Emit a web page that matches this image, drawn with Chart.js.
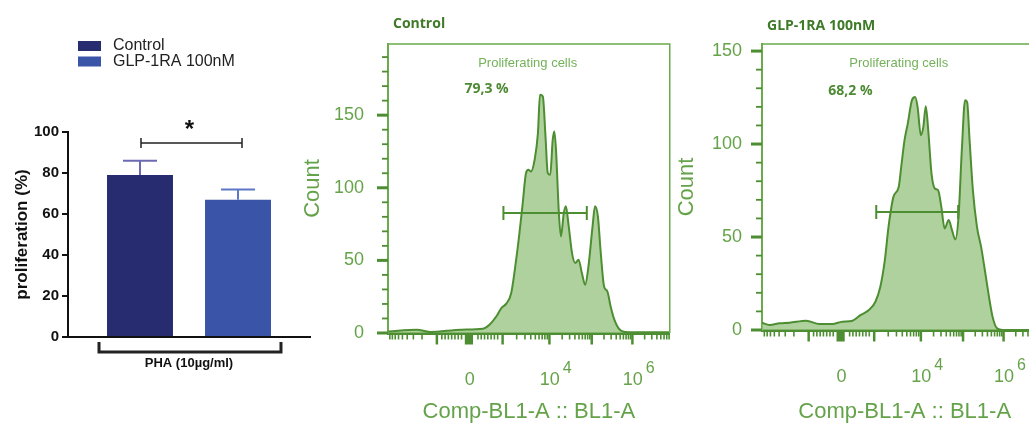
<!DOCTYPE html>
<html>
<head>
<meta charset="utf-8">
<script src="https://cdn.jsdelivr.net/npm/chart.js@4.4.1/dist/chart.umd.min.js"></script>
<style>
  html, body { margin: 0; padding: 0; background: #fff; overflow: hidden; }
  body { width: 1029px; height: 425px; position: relative; }
  canvas { position: absolute; top: 0; }
  #barChart { left: 0; }
  #ctrlChart { left: 300px; }
  #glpChart { left: 670px; }
</style>
</head>
<body>
<canvas id="barChart" width="320" height="425"></canvas>
<canvas id="ctrlChart" width="380" height="425"></canvas>
<canvas id="glpChart" width="380" height="425"></canvas>
<script>
// bar chart data
const groups = ['Control', 'GLP-1RA 100nM'];
const proliferation = [79, 67];
const proliferationErr = [86, 72];   // top of the error bar
const stimulus = 'PHA (10µg/ml)';

// histogram data (x in display units of the biexponential axis)
const ctrlBins = [-1.98, -1.29, -0.97, -0.20, 0.32, 0.48, 0.65, 0.77, 0.89, 1.01, 1.13, 1.21, 1.29, 1.37, 1.43, 1.49, 1.58, 1.66, 1.71, 1.78, 1.84, 1.90, 1.96, 2.02, 2.06, 2.10, 2.17, 2.22, 2.29, 2.34, 2.41, 2.49, 2.57, 2.65, 2.73, 2.81, 2.89, 2.99, 3.05, 3.12, 3.19, 3.27, 3.35, 3.43, 3.52, 3.62, 3.72, 3.88, 4.85];
const ctrlCounts = [1.1, 2.3, 0.7, 2.3, 3.0, 5.7, 11.5, 17.2, 20.2, 27.5, 50.5, 68.8, 89.4, 110.1, 112.4, 111.2, 119.3, 137.6, 164.0, 162.8, 137.6, 110.1, 108.9, 133.0, 138.8, 126.1, 82.6, 66.5, 82.6, 87.2, 73.4, 55.0, 48.2, 50.5, 41.3, 33.3, 45.9, 73.4, 87.2, 80.3, 55.0, 32.1, 28.7, 18.3, 9.2, 3.4, 1.1, 0.5, 0.5];
const glpBins = [-1.95, -1.75, -1.51, -1.27, -0.86, -0.54, -0.22, 0.02, 0.27, 0.47, 0.67, 0.83, 0.95, 1.06, 1.15, 1.27, 1.40, 1.46, 1.54, 1.62, 1.72, 1.80, 1.86, 1.94, 2.00, 2.06, 2.12, 2.20, 2.28, 2.36, 2.44, 2.52, 2.62, 2.70, 2.78, 2.86, 2.94, 3.02, 3.07, 3.13, 3.21, 3.31, 3.41, 3.49, 3.59, 3.69, 3.80, 3.94, 5.0];
const glpCounts = [3.9, 2.7, 3.6, 3.9, 5.0, 3.2, 3.2, 4.5, 5.0, 8.1, 10.7, 15.2, 23.3, 37.6, 55.5, 71.6, 77.0, 87.7, 102.0, 111.0, 123.5, 125.3, 119.9, 104.7, 109.2, 120.3, 107.4, 84.1, 76.1, 75.2, 66.2, 54.6, 59.1, 53.7, 48.7, 60.9, 96.7, 123.5, 122.6, 102.0, 75.2, 55.5, 44.8, 34.0, 19.7, 7.2, 0.9, 0, 0];

// gates: [start, end, level]
const ctrlGate = [0.82, 2.85, 82.6];
const glpGate = [0.85, 2.85, 63.4];
const gatedPercent = ['79,3 %', '68,2 %'];

// x axis tick labels (value, base, exponent)
const xTickValues = [0, 1.95, 3.97];
const xTickBases = ['0', '10', '10'];
const xTickExps = ['', '4', '6'];

const ARIAL = "'Liberation Sans', Arial, sans-serif";
const CALIBRI = "'Open Sans', 'Liberation Sans', sans-serif";
const barColors = ['#272b70', '#3a54a8'];
const errColors = ['#6b6ab2', '#5d76c6'];

const GREEN_TEXT = '#65a34a';
const GREEN_LINE = '#4e8e32';
const GREEN_AXIS = '#6aab4c';
const GREEN_DARK = '#3f7a28';

// ---------- bar chart ----------
const barExtras = {
  id: 'barExtras',
  afterDatasetsDraw(chart) {
    const { ctx, scales: { y } } = chart;
    const els = chart.data.datasets.map((d, i) => chart.getDatasetMeta(i).data[0]);
    ctx.save();
    // error bars
    els.forEach((el, i) => {
      const yTop = y.getPixelForValue(proliferationErr[i]);
      const yMean = y.getPixelForValue(proliferation[i]);
      ctx.strokeStyle = errColors[i];
      ctx.lineWidth = 2;
      ctx.beginPath();
      ctx.moveTo(el.x, yMean); ctx.lineTo(el.x, yTop);
      ctx.moveTo(el.x - 17, yTop); ctx.lineTo(el.x + 17, yTop);
      ctx.stroke();
    });
    // significance bracket
    const yb = y.getPixelForValue(94.6);
    const x0 = els[0].x + 1, x1 = els[1].x + 4;
    ctx.strokeStyle = '#222';
    ctx.lineWidth = 1.5;
    ctx.beginPath();
    ctx.moveTo(x0, yb); ctx.lineTo(x1, yb);
    ctx.moveTo(x0, yb - 5); ctx.lineTo(x0, yb + 5);
    ctx.moveTo(x1, yb - 5); ctx.lineTo(x1, yb + 5);
    ctx.stroke();
    ctx.fillStyle = '#111';
    ctx.font = 'bold 24px ' + ARIAL;
    ctx.textAlign = 'center';
    ctx.textBaseline = 'middle';
    ctx.fillText('*', (x0 + x1) / 2 - 2, yb - 13);
    // group bracket under the axis
    const bl = els[0].x - els[0].width / 2 - 8;
    const br = els[1].x + els[1].width / 2 + 10;
    const by = chart.chartArea.bottom + 15;
    ctx.lineWidth = 3;
    ctx.beginPath();
    ctx.moveTo(bl, by - 10); ctx.lineTo(bl, by); ctx.lineTo(br, by); ctx.lineTo(br, by - 10);
    ctx.stroke();
    // legend
    ctx.font = '16px ' + ARIAL;
    ctx.textAlign = 'left';
    chart.data.datasets.forEach((d, i) => {
      const ly = 46 + i * 15.5;
      ctx.fillStyle = d.backgroundColor;
      ctx.fillRect(78, ly - 5, 23, 10);
      ctx.fillStyle = '#222';
      ctx.fillText(d.label, 113, ly);
    });
    ctx.restore();
  }
};

new Chart(document.getElementById('barChart'), {
  type: 'bar',
  data: {
    labels: [stimulus],
    datasets: groups.map((g, i) => ({
      label: g,
      data: [proliferation[i]],
      backgroundColor: barColors[i],
      categoryPercentage: 0.81,
      barPercentage: 0.673
    }))
  },
  options: {
    responsive: false,
    animation: false,
    layout: { padding: { top: 132, right: 10, left: 0, bottom: 0 } },
    plugins: { legend: { display: false }, tooltip: { enabled: false } },
    scales: {
      x: {
        grid: { display: false, drawTicks: false },
        border: { display: true, color: '#111', width: 2 },
        ticks: { display: false },
        title: {
          display: true, text: stimulus, color: '#111',
          font: { family: ARIAL, size: 13, weight: 'bold' },
          padding: { top: 0, bottom: 54 }
        },
        afterFit: s => { s.height = 88; }
      },
      y: {
        min: 0, max: 100,
        ticks: { stepSize: 20, color: '#111', padding: 3, font: { family: ARIAL, size: 15, weight: 'bold' } },
        grid: { drawOnChartArea: false, tickLength: 6, color: '#111', lineWidth: 2 },
        border: { color: '#111', width: 2 },
        title: {
          display: true, text: 'proliferation (%)', color: '#111',
          font: { family: ARIAL, size: 17, weight: 'bold' },
          padding: { top: 12, bottom: 0 }
        },
        afterFit: s => { s.width = 68; }
      }
    }
  },
  plugins: [barExtras]
});

// ---------- flow histograms ----------
function biexTicks() {
  const longs = [-0.8, 0.8, 1.94, 2.97, 3.96, 4.95];
  const shorts = [];
  const pairs = [[-0.8, -2.0], [0.8, 1.94], [1.94, 2.97], [2.97, 3.96], [3.96, 4.95]];
  pairs.forEach(([a, b]) => {
    for (let k = 2; k <= 9; k++) shorts.push(a + (b - a) * Math.log10(k));
  });
  [0.2, 0.28, 0.36, 0.44, 0.52, 0.6, 0.68].forEach(v => { shorts.push(v); shorts.push(-v); });
  return { longs, shorts };
}

function histExtras(cfg) {
  return {
    id: 'histExtras',
    afterDraw(chart) {
      const { ctx, chartArea: ca, scales: { x, y } } = chart;
      ctx.save();
      // frame top and right
      ctx.strokeStyle = GREEN_AXIS;
      ctx.lineWidth = 1.5;
      ctx.beginPath();
      ctx.moveTo(ca.left, ca.top); ctx.lineTo(ca.right, ca.top); ctx.lineTo(ca.right, ca.bottom);
      ctx.stroke();
      // y ticks
      ctx.strokeStyle = GREEN_LINE;
      y.ticks.forEach(t => {
        if (t.value % 10 !== 0) return;
        const major = t.value % 50 === 0;
        const py = y.getPixelForValue(t.value);
        ctx.lineWidth = major ? 3 : 1.8;
        ctx.beginPath();
        ctx.moveTo(ca.left - (major ? 11 : 6), py); ctx.lineTo(ca.left, py);
        ctx.stroke();
      });
      // biexponential ticks under the x axis
      const bt = biexTicks();
      const by = ca.bottom + 1.5;
      ctx.lineWidth = 1.6;
      bt.shorts.forEach(v => {
        const px = x.getPixelForValue(v);
        if (px < ca.left || px > ca.right) return;
        ctx.beginPath(); ctx.moveTo(px, by); ctx.lineTo(px, by + 5); ctx.stroke();
      });
      ctx.lineWidth = 2.5;
      bt.longs.forEach(v => {
        const px = x.getPixelForValue(v);
        if (px < ca.left || px > ca.right) return;
        ctx.beginPath(); ctx.moveTo(px, by); ctx.lineTo(px, by + 10); ctx.stroke();
      });
      ctx.fillStyle = GREEN_LINE;
      const b0 = x.getPixelForValue(-0.12), b1 = x.getPixelForValue(0.08);
      ctx.fillRect(b0, by, b1 - b0, 10);
      // exponents on x tick labels
      ctx.fillStyle = GREEN_TEXT;
      ctx.font = '16px ' + ARIAL;
      ctx.textAlign = 'left';
      ctx.textBaseline = 'middle';
      xTickValues.forEach((v, i) => {
        if (!xTickExps[i]) return;
        ctx.fillText(xTickExps[i], x.getPixelForValue(v) + 13, ca.bottom + 36);
      });
      // gate
      const g = cfg.gate;
      const gx0 = x.getPixelForValue(g[0]), gx1 = x.getPixelForValue(g[1]), gy = y.getPixelForValue(g[2]);
      ctx.strokeStyle = GREEN_LINE;
      ctx.lineWidth = 2;
      ctx.beginPath();
      ctx.moveTo(gx0, gy); ctx.lineTo(gx1, gy);
      ctx.moveTo(gx0, gy - 7); ctx.lineTo(gx0, gy + 7);
      ctx.moveTo(gx1, gy - 7); ctx.lineTo(gx1, gy + 7);
      ctx.stroke();
      // gate texts
      ctx.textAlign = 'center';
      ctx.fillStyle = '#74b25a';
      ctx.font = '13px ' + ARIAL;
      ctx.fillText('Proliferating cells', x.getPixelForValue(cfg.namePos[0]), y.getPixelForValue(cfg.namePos[1]));
      ctx.fillStyle = '#4d8a33';
      ctx.font = 'bold 14px ' + CALIBRI;
      ctx.fillText(cfg.percent, x.getPixelForValue(cfg.pctPos[0]), y.getPixelForValue(cfg.pctPos[1]));
      // panel title
      ctx.textAlign = 'left';
      ctx.fillStyle = GREEN_DARK;
      ctx.font = 'bold 14px ' + CALIBRI;
      ctx.fillText(cfg.title, ca.left + 5, cfg.titleY);
      ctx.restore();
    }
  };
}

function makeHist(id, bins, counts, cfg) {
  const area = cfg.area; // [left, top, right, bottom] in canvas pixels
  const canvas = document.getElementById(id);
  return new Chart(canvas, {
    type: 'line',
    data: {
      datasets: [{
        data: bins.map((b, i) => ({ x: b, y: counts[i] })),
        borderColor: GREEN_LINE,
        backgroundColor: 'rgba(150, 194, 126, 0.76)',
        borderWidth: 2,
        fill: 'origin',
        pointRadius: 0,
        cubicInterpolationMode: 'monotone'
      }]
    },
    options: {
      responsive: false,
      animation: false,
      layout: { padding: { top: area[1], right: canvas.width - area[2], left: 0, bottom: 0 } },
      plugins: { legend: { display: false }, tooltip: { enabled: false } },
      scales: {
        x: {
          type: 'linear',
          min: cfg.xRange[0], max: cfg.xRange[1],
          afterBuildTicks: s => { s.ticks = xTickValues.map(v => ({ value: v })); },
          ticks: {
            callback: (v, i) => xTickBases[i],
            color: GREEN_TEXT, padding: 36, maxRotation: 0, autoSkip: false,
            font: { family: ARIAL, size: 18 }
          },
          grid: { display: false, drawTicks: false },
          border: { display: true, color: GREEN_LINE, width: 3 },
          title: {
            display: true, text: 'Comp-BL1-A :: BL1-A', color: GREEN_TEXT,
            font: { family: ARIAL, size: 22 }, padding: { top: 0, bottom: 0 }
          },
          afterFit: s => { s.height = canvas.height - area[3]; }
        },
        y: {
          min: 0, max: cfg.yMax,
          ticks: {
            stepSize: 10,
            autoSkip: false,
            includeBounds: false,
            callback: v => (v % 50 === 0 ? v : ''),
            color: GREEN_TEXT, padding: cfg.tickPad,
            font: { family: ARIAL, size: 18 }
          },
          grid: { display: false, drawTicks: false },
          border: { display: true, color: GREEN_AXIS, width: 2 },
          title: {
            display: true, text: 'Count', color: GREEN_TEXT,
            font: { family: ARIAL, size: 22 }, padding: { top: cfg.countPad, bottom: 0 }
          },
          afterFit: s => { s.width = area[0]; }
        }
      }
    },
    plugins: [histExtras(cfg)]
  });
}

makeHist('ctrlChart', ctrlBins, ctrlCounts, {
  area: [88, 44, 371, 333],
  xRange: [-1.99, 4.87],
  yMax: 199,
  tickPad: 24,
  countPad: 0,
  gate: ctrlGate,
  percent: gatedPercent[0],
  namePos: [1.41, 185.8],
  pctPos: [0.41, 168],
  title: 'Control',
  titleY: 24
});

makeHist('glpChart', glpBins, glpCounts, {
  area: [92, 44, 380, 330],
  xRange: [-1.94, 5.03],
  yMax: 153.8,
  tickPad: 20,
  countPad: 4,
  gate: glpGate,
  percent: gatedPercent[1],
  namePos: [1.40, 143.5],
  pctPos: [0.22, 128.5],
  title: 'GLP-1RA 100nM',
  titleY: 26
});
</script>
</body>
</html>
